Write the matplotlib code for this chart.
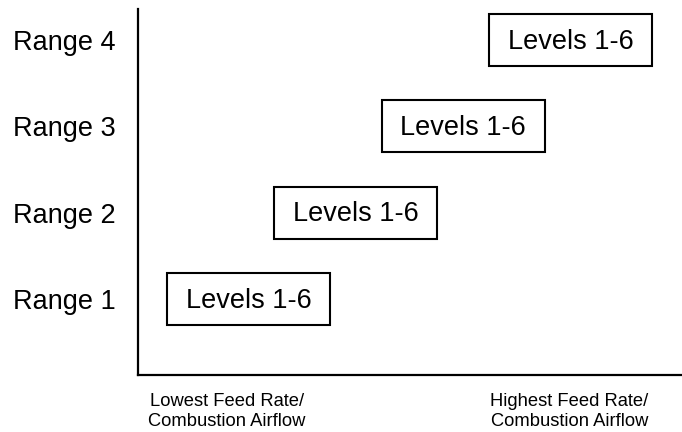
import matplotlib
matplotlib.use("Agg")
import matplotlib.pyplot as plt

plt.rcParams['font.family'] = ['Liberation Sans', 'DejaVu Sans']

# ranges on the y axis, with the feed-rate span each one covers
ranges = ["Range 1", "Range 2", "Range 3", "Range 4"]
range_pos = [1, 2, 3, 4]
span_start = [0.27, 1.27, 2.27, 3.27]
span_width = [1.52, 1.52, 1.52, 1.52]
box_labels = ["Levels 1-6", "Levels 1-6", "Levels 1-6", "Levels 1-6"]

# x axis end labels
x_label_pos = [0.83, 4.02]
x_labels = ["Lowest Feed Rate/\nCombustion Airflow", "Highest Feed Rate/\nCombustion Airflow"]

fig = plt.figure(figsize=(6.82, 4.32), dpi=100)
ax = fig.add_axes([138 / 682, 57 / 432, 1 - 138 / 682, 366 / 432])

ax.barh(range_pos, span_width, left=span_start, height=0.6,
        fill=False, edgecolor='black', linewidth=1.5)
for y, x0, w, lab in zip(range_pos, span_start, span_width, box_labels):
    ax.text(x0 + w / 2, y - 0.02, lab, ha='center', va='center', fontsize=19.5)

ax.set_xlim(0, 544 / 107.3)
ax.set_ylim(0.12, 4.36)

ax.set_yticks(range_pos)
ax.set_yticklabels(ranges, fontsize=19.5)
ax.set_xticks(x_label_pos)
ax.set_xticklabels(x_labels, fontsize=13.2, linespacing=1.22)
ax.tick_params(axis='y', length=0, pad=16)
ax.tick_params(axis='x', length=0, pad=13)

for side in ['top', 'right']:
    ax.spines[side].set_visible(False)
for side in ['left', 'bottom']:
    ax.spines[side].set_linewidth(1.6)

fig.savefig("out.png", dpi=100)
